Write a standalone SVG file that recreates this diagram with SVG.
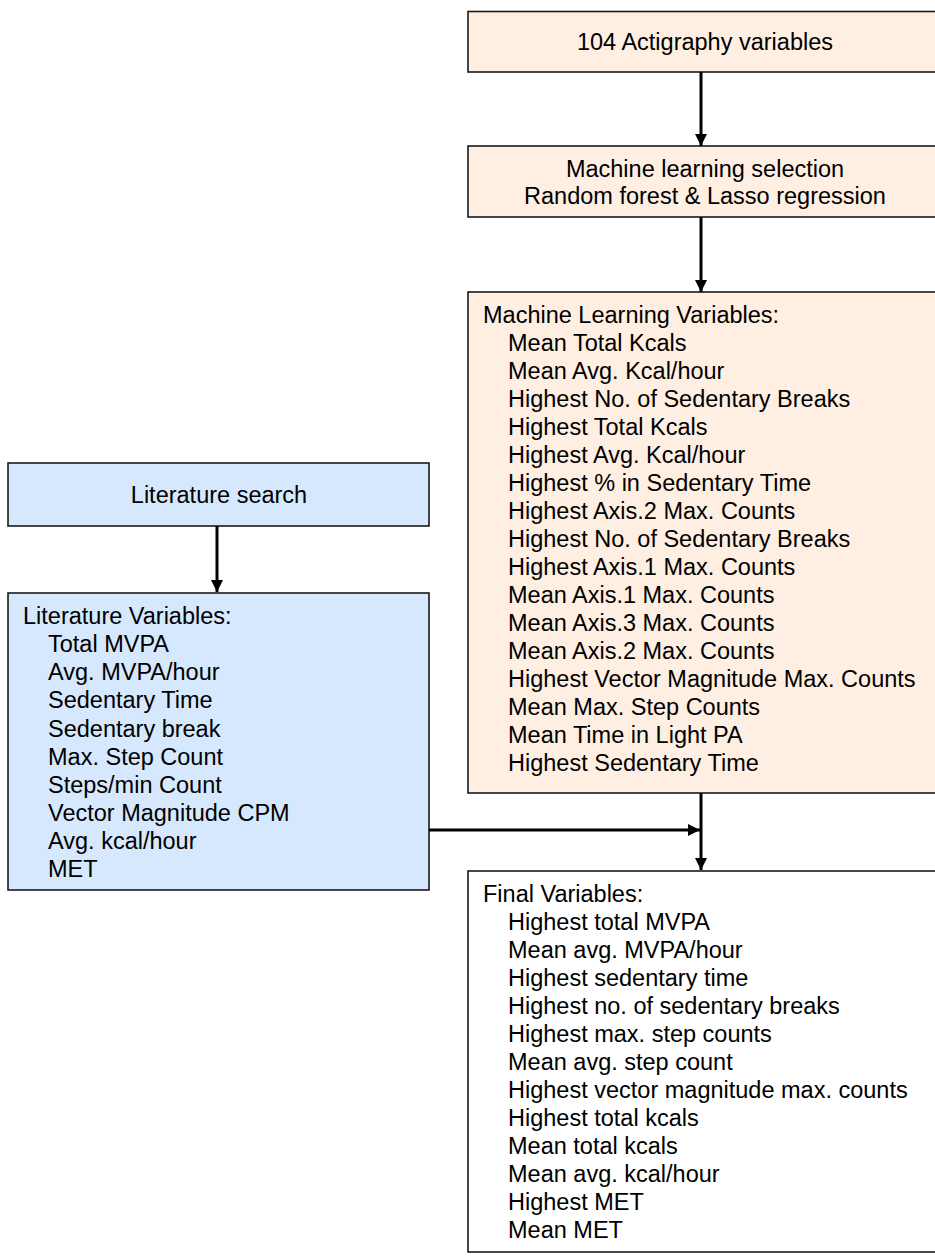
<svg xmlns="http://www.w3.org/2000/svg" width="935" height="1256" viewBox="0 0 935 1256">
<defs>
<style>
.box{stroke:#1a1a1a;stroke-width:1.6}
.peach{fill:#FEEFE2}
.blue{fill:#D5E8FD}
.white{fill:#FFFFFF}
text{font-family:"Liberation Sans",Arial,sans-serif;font-size:23.5px;fill:#000}
.c{text-anchor:middle}
.conn{stroke:#000;stroke-width:3;fill:none}
</style>
<marker id="ah" markerUnits="userSpaceOnUse" markerWidth="12" markerHeight="12" refX="12" refY="6" orient="auto">
<path d="M0,0 L12,6 L0,12 z" fill="#000"/>
</marker>
</defs>
<rect width="935" height="1256" fill="#fff"/>
<g id="n-actigraphy">
<rect class="box peach" x="468" y="11.5" width="474" height="60.5"/>
<text class="c" x="705" y="50">104 Actigraphy variables</text>
</g>
<g id="n-ml-selection">
<rect class="box peach" x="468" y="146" width="474" height="71"/>
<text class="c" x="705" y="177">Machine learning selection</text>
<text class="c" x="705" y="204">Random forest &amp; Lasso regression</text>
</g>
<g id="n-ml-variables">
<rect class="box peach" x="468" y="292" width="474" height="501"/>
<text x="483" y="323">Machine Learning Variables:</text>
<text x="508" y="351">Mean Total Kcals</text>
<text x="508" y="379">Mean Avg. Kcal/hour</text>
<text x="508" y="407">Highest No. of Sedentary Breaks</text>
<text x="508" y="435">Highest Total Kcals</text>
<text x="508" y="463">Highest Avg. Kcal/hour</text>
<text x="508" y="491">Highest % in Sedentary Time</text>
<text x="508" y="519">Highest Axis.2 Max. Counts</text>
<text x="508" y="547">Highest No. of Sedentary Breaks</text>
<text x="508" y="575">Highest Axis.1 Max. Counts</text>
<text x="508" y="603">Mean Axis.1 Max. Counts</text>
<text x="508" y="631">Mean Axis.3 Max. Counts</text>
<text x="508" y="659">Mean Axis.2 Max. Counts</text>
<text x="508" y="687">Highest Vector Magnitude Max. Counts</text>
<text x="508" y="715">Mean Max. Step Counts</text>
<text x="508" y="743">Mean Time in Light PA</text>
<text x="508" y="771">Highest Sedentary Time</text>
</g>
<g id="n-lit-search">
<rect class="box blue" x="8" y="463" width="421" height="63"/>
<text class="c" x="219" y="503">Literature search</text>
</g>
<g id="n-lit-variables">
<rect class="box blue" x="8" y="593" width="421" height="297"/>
<text x="23" y="624">Literature Variables:</text>
<text x="48" y="652">Total MVPA</text>
<text x="48" y="680">Avg. MVPA/hour</text>
<text x="48" y="708">Sedentary Time</text>
<text x="48" y="737">Sedentary break</text>
<text x="48" y="765">Max. Step Count</text>
<text x="48" y="793">Steps/min Count</text>
<text x="48" y="821">Vector Magnitude CPM</text>
<text x="48" y="849">Avg. kcal/hour</text>
<text x="48" y="877">MET</text>
</g>
<g id="n-final">
<rect class="box white" x="468" y="871" width="474" height="381"/>
<text x="483" y="902">Final Variables:</text>
<text x="508" y="930">Highest total MVPA</text>
<text x="508" y="958">Mean avg. MVPA/hour</text>
<text x="508" y="986">Highest sedentary time</text>
<text x="508" y="1014">Highest no. of sedentary breaks</text>
<text x="508" y="1042">Highest max. step counts</text>
<text x="508" y="1070">Mean avg. step count</text>
<text x="508" y="1098">Highest vector magnitude max. counts</text>
<text x="508" y="1126">Highest total kcals</text>
<text x="508" y="1154">Mean total kcals</text>
<text x="508" y="1182">Mean avg. kcal/hour</text>
<text x="508" y="1210">Highest MET</text>
<text x="508" y="1238">Mean MET</text>
</g>
<g id="connectors">
<line class="conn" x1="701" y1="72" x2="701" y2="146" marker-end="url(#ah)"/>
<line class="conn" x1="701" y1="217" x2="701" y2="292" marker-end="url(#ah)"/>
<line class="conn" x1="217" y1="526" x2="217" y2="592" marker-end="url(#ah)"/>
<line class="conn" x1="429" y1="830" x2="700" y2="830" marker-end="url(#ah)"/>
<line class="conn" x1="701" y1="793" x2="701" y2="870" marker-end="url(#ah)"/>
</g>
</svg>
